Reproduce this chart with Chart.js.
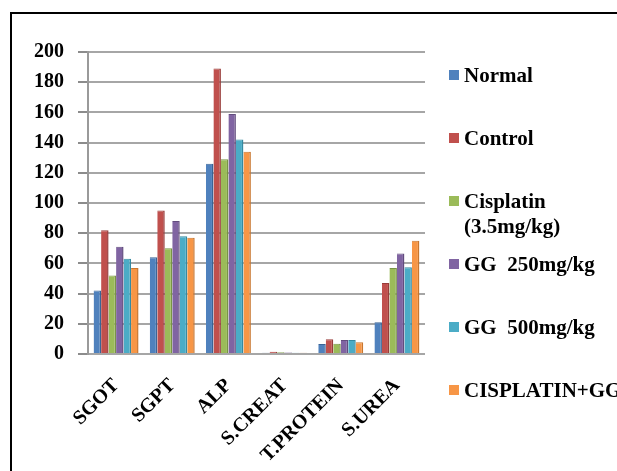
<!DOCTYPE html>
<html lang="en">
  <head>
    <meta charset="UTF-8" />
    <title>Biochemical parameters</title>
    <style>
      body,
      html {
        margin: 0;
        width: 617px;
        height: 471px;
        overflow: hidden;
        background: #fff;
        position: relative;
      }
      .frame {
        position: absolute;
        left: 10px;
        top: 12px;
        width: 700px;
        height: 600px;
        border: 2px solid #000;
      }
      .chart-box {
        position: absolute;
        left: 0;
        top: 0;
        width: 617px;
        height: 471px;
      }
      .legend {
        position: absolute;
        left: 449px;
        top: 0;
        font-family: "Liberation Serif", "Times New Roman", serif;
        font-weight: bold;
        font-size: 21px;
        line-height: 25px;
        color: #000;
      }
      .legend-item {
        position: absolute;
        left: 0;
        white-space: pre;
      }
      .legend-item .box {
        position: absolute;
        left: 0;
        top: 7px;
        width: 10px;
        height: 10px;
      }
      .legend-item .txt {
        margin-left: 15px;
        display: block;
      }
    </style>
  </head>
  <body>
    <div class="frame"></div>
    <div class="chart-box">
      <canvas id="myChart" width="617" height="471"></canvas>
    </div>
    <div class="legend" id="legend"></div>

    <script src="https://cdn.jsdelivr.net/npm/chart.js"></script>

    <script>
      // categorias do eixo X
      const parametros = ["SGOT", "SGPT", "ALP", "S.CREAT", "T.PROTEIN", "S.UREA"];

      const normal = [42, 64, 126, 0.8, 6.6, 21];
      const controle = [82, 95, 189, 1.5, 9.7, 47];
      const cisplatina = [52, 70, 129, 1.1, 6.8, 57];
      const gg250 = [71, 88, 159, 1.0, 9.2, 66.5];
      const gg500 = [63, 78, 142, 0.9, 9.2, 57.5];
      const cisplatinaGG = [57, 77, 134, 0.8, 7.7, 75];

      const grupos = [
        "Normal",
        "Control",
        "Cisplatin\n(3.5mg/kg)",
        "GG  250mg/kg",
        "GG  500mg/kg",
        "CISPLATIN+GG",
      ];
      const cores = ["#4F81BD", "#C0504D", "#9BBB59", "#8064A2", "#4BACC6", "#F79646"];
      const bordas = ["#3A6496", "#983C3A", "#789445", "#624C7E", "#358AA1", "#C8762F"];

      const yTicks = [0, 20, 40, 60, 80, 100, 120, 140, 160, 180, 200];

      const serie = [normal, controle, cisplatina, gg250, gg500, cisplatinaGG];

      const fonte = "'Liberation Serif', 'Times New Roman', serif";

      const ctx = document.getElementById("myChart").getContext("2d");

      const data = {
        labels: parametros,
        datasets: serie.map((valores, i) => ({
          label: grupos[i],
          data: valores,
          backgroundColor: cores[i],
          borderColor: bordas[i],
          borderWidth: { top: 1, right: 1.5, left: 0, bottom: 0 },
          categoryPercentage: 0.8,
          barPercentage: 1.0,
        })),
      };

      const config = {
        type: "bar",
        data: data,
        options: {
          responsive: false,
          animation: false,
          layout: {
            padding: { left: 0, top: 52, right: 192, bottom: 0 },
          },
          plugins: {
            legend: { display: false },
            tooltip: { enabled: false },
          },
          scales: {
            x: {
              grid: { display: false, drawTicks: false },
              border: { display: false },
              ticks: {
                color: "#000",
                minRotation: 45,
                maxRotation: 45,
                padding: 20,
                font: { family: fonte, weight: "bold", size: 20 },
              },
              afterFit: (scale) => {
                scale.height = 117;
              },
            },
            y: {
              min: 0,
              max: 200,
              afterBuildTicks: (scale) => {
                scale.ticks = yTicks.map((v) => ({ value: v }));
              },
              grid: {
                color: "#A6A6A6",
                lineWidth: 2,
                tickLength: 10,
                tickColor: "#8C8C8C",
              },
              border: { display: true, color: "#9A9A9A", width: 2 },
              ticks: {
                color: "#000",
                padding: 14,
                font: { family: fonte, weight: "bold", size: 20 },
              },
              afterFit: (scale) => {
                scale.width = 88;
              },
            },
          },
        },
      };

      const myChart = new Chart(ctx, config);

      // legenda em HTML ao lado do gráfico
      const legenda = document.getElementById("legend");
      grupos.forEach((nome, i) => {
        const item = document.createElement("div");
        item.className = "legend-item";
        item.style.top = 63 + 63 * i + "px";
        const box = document.createElement("span");
        box.className = "box";
        box.style.background = cores[i];
        const txt = document.createElement("span");
        txt.className = "txt";
        txt.textContent = nome;
        item.appendChild(box);
        item.appendChild(txt);
        legenda.appendChild(item);
      });
    </script>
  </body>
</html>
